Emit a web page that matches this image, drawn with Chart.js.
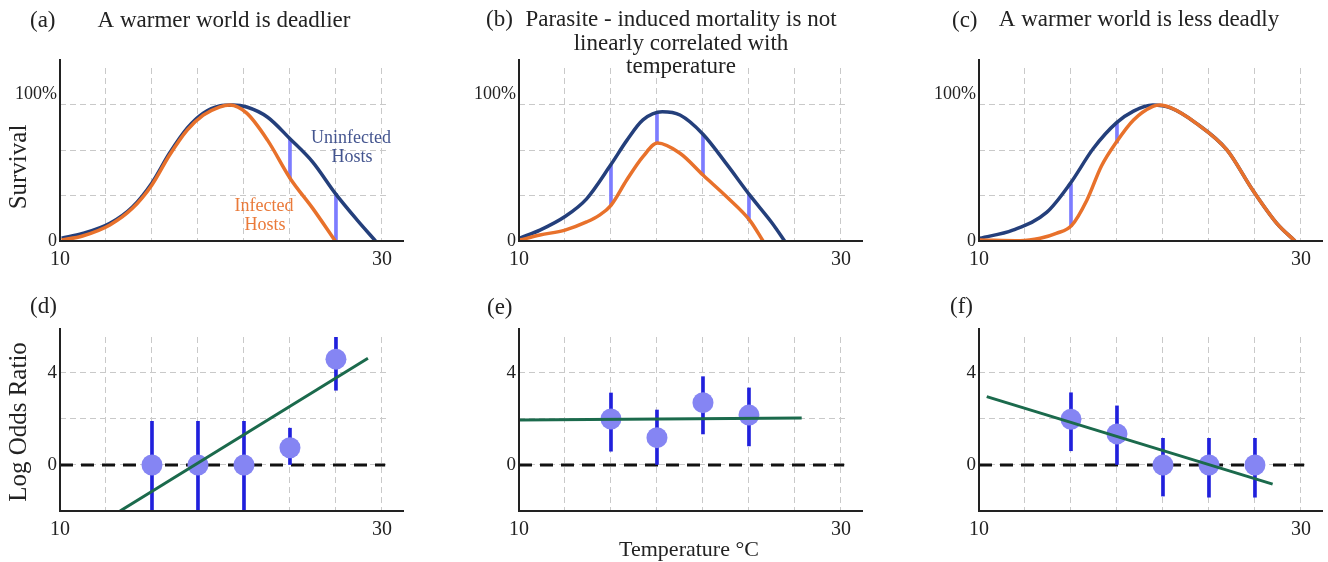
<!DOCTYPE html>
<html>
<head>
<meta charset="utf-8">
<script src="https://cdn.jsdelivr.net/npm/chart.js@4.4.1/dist/chart.umd.min.js"></script>
<style>
  body { margin: 0; background: #fff; }
  #wrap { position: relative; width: 1328px; height: 562px; overflow: hidden; }
  canvas { position: absolute; }
</style>
</head>
<body>
<div id="wrap">
  <canvas id="pa" width="409" height="280" style="left:0;top:0;width:409px;height:280px"></canvas>
  <canvas id="pb" width="409" height="280" style="left:459px;top:0;width:409px;height:280px"></canvas>
  <canvas id="pc" width="409" height="280" style="left:919px;top:0;width:409px;height:280px"></canvas>
  <canvas id="pd" width="409" height="282" style="left:0;top:280px;width:409px;height:282px"></canvas>
  <canvas id="pe" width="409" height="282" style="left:459px;top:280px;width:409px;height:282px"></canvas>
  <canvas id="pf" width="409" height="282" style="left:919px;top:280px;width:409px;height:282px"></canvas>
</div>
<script>
const FONT = '"Liberation Serif", "DejaVu Serif", serif';
const NAVY = '#243f7b';
const ORANGE = '#e8712b';
const DIFF = '#7c7cff';
const DOT = '#8585f3';
const ERR = '#2020dc';
const GREEN = '#1b6a4c';

// axes
const gridTemps = [10, 12.857, 15.714, 18.571, 21.429, 24.286, 27.143, 30];
const tempLabels = ['10', '', '', '', '', '', '', '30'];
const survivalGrid = [0, 33.33, 66.67, 100];
const survivalLabels = ['0', '', '', ['100%', '']];
const oddsGrid = [-2, 0, 2, 4];
const oddsLabels = ['', '0', '', '4'];

// (a) survival curves
const tempUninfA = [10.1, 11.4, 13.1, 14.5, 15.7, 16.8, 17.9, 18.9, 19.9, 20.75, 21.6, 22.9, 24.3, 25.7, 27.1, 28.45, 29.6];
const survUninfA = [2, 5.5, 13, 25, 42.5, 64.5, 83, 94, 99.3, 100, 98.5, 91, 75, 58, 35, 15.5, 0];
const tempInfA = [10.1, 11.4, 13.1, 14.5, 15.7, 16.8, 17.9, 18.9, 19.9, 20.55, 21.6, 22.9, 24.3, 25.7, 27.1];
const survInfA = [0.7, 3.7, 11.8, 24, 41, 63, 81.5, 92.5, 98.5, 100, 94, 74, 46, 24, 0];
const diffTempA = [24.286, 27.143];
const diffLowA = [46, 0];
const diffHighA = [75, 35];

// (b)
const tempUninfB = [10.06, 11.3, 12.86, 14.2, 15.7, 16.7, 17.7, 18.9, 20, 21.43, 22.9, 24.35, 25.8, 26.5];
const survUninfB = [2.2, 8, 18, 31, 56, 74, 89, 95, 92.6, 78.5, 56.5, 33.5, 12, 0];
const tempInfB = [10.06, 11.3, 12.86, 14.2, 15.0, 15.7, 16.7, 17.7, 18.6, 20, 21.43, 22.9, 24.35, 25.16];
const survInfB = [0.7, 4.4, 8, 14, 19, 26, 45, 62, 72, 64.5, 48.5, 32.5, 15, 0];
const diffTempB = [15.714, 18.571, 21.429, 24.286];
const diffLowB = [26, 72, 48.5, 15];
const diffHighB = [56, 94, 78, 34];

// (c)
const tempUninfC = [10.06, 12.1, 14.2, 15.65, 17.1, 18.55, 19.6, 20.8, 21.9, 23.5, 25.4, 27, 28.5, 29.63];
const survUninfC = [2, 8, 21, 42, 68, 87, 95.5, 100, 97.8, 86.5, 67, 37.5, 13, 0];
const tempInfC = [10.06, 12.55, 13.8, 14.8, 15.76, 16.7, 17.6, 18.55, 19.6, 20.8, 21.24, 21.9, 23.5, 25.4, 27, 28.5, 29.63];
const survInfC = [0.7, 0.2, 2, 5.6, 11.5, 30, 55, 73, 89, 99, 100, 98, 86.5, 67, 37.5, 13, 0];
const diffTempC = [15.714, 18.571];
const diffLowC = [10.5, 72];
const diffHighC = [42, 87];

// (d) log odds ratio
const tempD = [15.714, 18.571, 21.429, 24.286, 27.143];
const oddsD = [0, 0, 0, 0.75, 4.6];
const lowD = [-2, -2, -2, 0, 3.25];
const highD = [1.9, 1.9, 1.9, 1.6, 5.8];
const fitTempD = [13.73, 29.13];
const fitOddsD = [-2, 4.64];

// (e)
const tempE = [15.714, 18.571, 21.429, 24.286];
const oddsE = [2.0, 1.19, 2.71, 2.17];
const lowE = [0.6, 0, 1.35, 0.83];
const highE = [3.13, 2.39, 3.84, 3.35];
const fitTempE = [10, 27.56];
const fitOddsE = [1.96, 2.04];

// (f)
const tempF = [15.714, 18.571, 21.429, 24.286, 27.143];
const oddsF = [1.99, 1.35, 0, 0, 0];
const lowF = [0.62, 0, -1.35, -1.4, -1.4];
const highF = [3.14, 2.57, 1.16, 1.16, 1.16];
const fitTempF = [10.48, 28.24];
const fitOddsF = [2.97, -0.83];

const zeroTemp = [10, 30.2];
const zeroOdds = [0, 0];

function pts(xs, ys) { return xs.map((x, i) => ({x: x, y: ys[i]})); }
function spans(xs, lo, hi) { return xs.map((x, i) => ({x: x, y: [lo[i], hi[i]]})); }

// axis lines + text (panel letters, titles, labels)
function overlay(texts) {
  return {
    id: 'overlay',
    afterDraw(chart) {
      const ctx = chart.ctx, a = chart.chartArea;
      ctx.save();
      ctx.strokeStyle = '#222';
      ctx.lineWidth = 2;
      ctx.beginPath();
      ctx.moveTo(a.left, a.top - 9);
      ctx.lineTo(a.left, a.bottom);
      ctx.lineTo(a.right + 14, a.bottom);
      ctx.stroke();
      texts.forEach(t => {
        ctx.font = (t.size || 23) + 'px ' + FONT;
        ctx.fillStyle = t.color || '#222';
        if (t.rotate) {
          ctx.save();
          ctx.translate(t.x, t.y);
          ctx.rotate(-Math.PI / 2);
          ctx.textAlign = 'center';
          ctx.textBaseline = 'middle';
          ctx.fillText(t.text, 0, 0);
          ctx.restore();
        } else {
          ctx.textAlign = t.align || 'center';
          ctx.textBaseline = 'alphabetic';
          ctx.fillText(t.text, t.x, t.y);
        }
      });
      ctx.restore();
    }
  };
}

function panel(id, datasets, yCfg, texts) {
  return new Chart(document.getElementById(id), {
    type: 'line',
    data: { datasets: datasets },
    options: {
      responsive: false,
      animation: false,
      devicePixelRatio: 1,
      layout: { padding: { top: yCfg.top, right: 19, left: 0, bottom: 0 } },
      plugins: { legend: { display: false }, tooltip: { enabled: false } },
      elements: { point: { radius: 0 } },
      scales: {
        x: {
          type: 'linear', min: 10, max: 30.5, offset: false, bounds: 'data',
          grid: { color: '#c9c9c9', lineWidth: 1, drawTicks: false, offset: false },
          border: { display: false, dash: [6, 4] },
          afterBuildTicks: s => { s.ticks = gridTemps.map(v => ({ value: v })); },
          afterFit: s => { s.height = yCfg.xHeight; },
          ticks: {
            autoSkip: false, maxRotation: 0, padding: 7, color: '#222',
            font: { family: FONT, size: 20 },
            callback: (v, i) => tempLabels[i]
          }
        },
        y: {
          type: 'linear', min: yCfg.min, max: yCfg.max, bounds: 'data',
          grid: { color: '#c9c9c9', lineWidth: 1, drawTicks: false },
          border: { display: false, dash: [6, 4] },
          afterBuildTicks: s => { s.ticks = yCfg.grid.map(v => ({ value: v })); },
          afterFit: s => { s.width = 60; },
          ticks: {
            autoSkip: false, padding: 3, color: '#222',
            font: { family: FONT, size: yCfg.fontSize },
            callback: (v, i) => yCfg.labels[i]
          }
        }
      }
    },
    plugins: [overlay(texts)]
  });
}

function survivalSets(tu, su, ti, si, dt, dl, dh) {
  return [
    { type: 'bar', data: spans(dt, dl, dh), backgroundColor: DIFF, barThickness: 3, grouped: false, borderWidth: 0, order: 5 },
    { type: 'line', data: pts(tu, su), borderColor: NAVY, borderWidth: 3.5, cubicInterpolationMode: 'monotone', pointRadius: 0, order: 3 },
    { type: 'line', data: pts(ti, si), borderColor: ORANGE, borderWidth: 3.5, cubicInterpolationMode: 'monotone', pointRadius: 0, order: 2 }
  ];
}

function oddsSets(t, o, lo, hi, ft, fo) {
  return [
    { type: 'line', data: pts(zeroTemp, zeroOdds), borderColor: '#111', borderWidth: 3, borderDash: [13, 8], pointRadius: 0, order: 6 },
    { type: 'bar', data: spans(t, lo, hi), backgroundColor: ERR, barThickness: 3, grouped: false, borderWidth: 0, order: 5 },
    { type: 'scatter', data: pts(t, o), showLine: false, pointRadius: 10.5, pointHoverRadius: 10.5, pointBackgroundColor: DOT, pointBorderWidth: 0, order: 3 },
    { type: 'line', data: pts(ft, fo), borderColor: GREEN, borderWidth: 3, pointRadius: 0, order: 1 }
  ];
}

const survivalAxis = { top: 68, xHeight: 39, min: 0, max: 127.2, grid: survivalGrid, labels: survivalLabels, fontSize: 18 };
const oddsAxis = { top: 57, xHeight: 51, min: -2, max: 5.565, grid: oddsGrid, labels: oddsLabels, fontSize: 19 };

panel('pa', survivalSets(tempUninfA, survUninfA, tempInfA, survInfA, diffTempA, diffLowA, diffHighA), survivalAxis, [
  { text: '(a)', x: 30, y: 27, align: 'left' },
  { text: 'A warmer world is deadlier', x: 224, y: 27 },
  { text: 'Survival', x: 19, y: 167, size: 25, rotate: true },
  { text: 'Uninfected', x: 351, y: 143, size: 18, color: '#44558f' },
  { text: 'Hosts', x: 352, y: 162, size: 18, color: '#44558f' },
  { text: 'Infected', x: 264, y: 211, size: 18, color: '#ea7a3a' },
  { text: 'Hosts', x: 265, y: 230, size: 18, color: '#ea7a3a' }
]);

panel('pb', survivalSets(tempUninfB, survUninfB, tempInfB, survInfB, diffTempB, diffLowB, diffHighB), survivalAxis, [
  { text: '(b)', x: 27, y: 26, align: 'left' },
  { text: 'Parasite - induced mortality is not', x: 222, y: 26 },
  { text: 'linearly correlated with', x: 222, y: 50 },
  { text: 'temperature', x: 222, y: 73 }
]);

panel('pc', survivalSets(tempUninfC, survUninfC, tempInfC, survInfC, diffTempC, diffLowC, diffHighC), survivalAxis, [
  { text: '(c)', x: 33, y: 27, align: 'left' },
  { text: 'A warmer world is less deadly', x: 220, y: 26 }
]);

panel('pd', oddsSets(tempD, oddsD, lowD, highD, fitTempD, fitOddsD), oddsAxis, [
  { text: '(d)', x: 30, y: 33, align: 'left' },
  { text: 'Log Odds Ratio', x: 19, y: 142, size: 25, rotate: true }
]);

panel('pe', oddsSets(tempE, oddsE, lowE, highE, fitTempE, fitOddsE), oddsAxis, [
  { text: '(e)', x: 28, y: 34, align: 'left' },
  { text: 'Temperature °C', x: 230, y: 276, size: 22 }
]);

panel('pf', oddsSets(tempF, oddsF, lowF, highF, fitTempF, fitOddsF), oddsAxis, [
  { text: '(f)', x: 31, y: 33, align: 'left' }
]);
</script>
</body>
</html>
